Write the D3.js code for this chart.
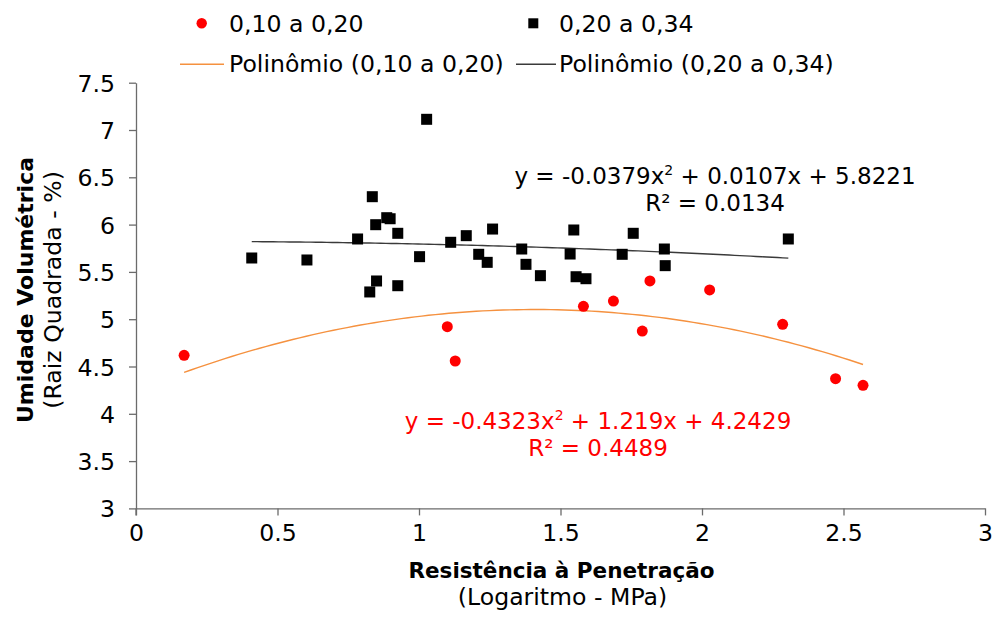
<!DOCTYPE html>
<html>
<head>
<meta charset="utf-8">
<script src="https://cdn.jsdelivr.net/npm/d3@7"></script>
<style>
  html, body { margin: 0; padding: 0; background: #fff; }
  svg { display: block; font-family: "DejaVu Sans", Verdana, sans-serif; }
</style>
</head>
<body>
<svg id="chart" width="992" height="617"></svg>
<script>
// Soil moisture vs. penetration resistance, two bulk-density classes
const redX = [0.170, 1.100, 1.128, 1.581, 1.687, 1.789, 1.816, 2.027, 2.285, 2.472, 2.569];
const redY = [4.618, 4.921, 4.558, 5.136, 5.192, 4.875, 5.404, 5.309, 4.946, 4.371, 4.301];

const blackX = [0.409, 0.604, 1.027, 0.835, 0.886, 0.898, 0.847, 0.925, 0.783, 1.112,
                1.167, 1.260, 1.002, 1.211, 1.241, 1.363, 1.378, 1.429, 0.850, 0.826,
                0.925, 1.547, 1.534, 1.555, 1.590, 1.757, 1.718, 1.867, 1.870, 2.305];
const blackY = [5.647, 5.626, 7.113, 6.295, 6.073, 6.062, 5.999, 5.908, 5.848, 5.813,
                5.883, 5.953, 5.661, 5.686, 5.601, 5.742, 5.580, 5.460, 5.404, 5.288,
                5.354, 5.943, 5.689, 5.449, 5.428, 5.908, 5.686, 5.742, 5.566, 5.848];

// Quadratic fit coefficients [a, b, c] for y = a*x^2 + b*x + c
const redFit = [-0.4323, 1.219, 4.2429];
const blackFit = [-0.0379, 0.0107, 5.8221];

const seriesNames = ["0,10 a 0,20", "0,20 a 0,34"];
const trendNames = ["Polinômio (0,10 a 0,20)", "Polinômio (0,20 a 0,34)"];

const xTicks = [0, 0.5, 1, 1.5, 2, 2.5, 3];
const yTicks = [3, 3.5, 4, 4.5, 5, 5.5, 6, 6.5, 7, 7.5];

const svg = d3.select("#chart");
const FS = 23.6;
const AXIS = "#6b6b6b";

const x = d3.scaleLinear().domain([0, 3]).range([136, 985]);
const y = d3.scaleLinear().domain([3, 7.5]).range([508.4, 82.7]);

// Axes
const xAxis = svg.append("g").attr("transform", `translate(0,${y(3)})`)
  .call(d3.axisBottom(x).tickValues(xTicks).tickFormat(d3.format("")).tickSize(7).tickSizeOuter(0));
const yAxis = svg.append("g").attr("transform", `translate(${x(0)},0)`)
  .call(d3.axisLeft(y).tickValues(yTicks).tickFormat(d3.format("")).tickSize(7).tickSizeOuter(0));

[xAxis, yAxis].forEach(g => {
  g.select(".domain").attr("stroke", AXIS).attr("stroke-width", 1.3);
  g.selectAll(".tick line").attr("stroke", AXIS).attr("stroke-width", 1.3);
  g.selectAll(".tick text").attr("fill", "#000").style("font-size", FS + "px")
    .style("font-family", "DejaVu Sans, Verdana, sans-serif");
});
xAxis.selectAll(".tick text").attr("dy", null).attr("y", 33);
yAxis.selectAll(".tick text").attr("x", -21).attr("dy", "0.36em");
// y axis continues down to the x tick length
svg.append("line").attr("x1", x(0)).attr("x2", x(0)).attr("y1", y(3)).attr("y2", y(3) + 7)
  .attr("stroke", AXIS).attr("stroke-width", 1.3);

// Trend curves
function curve(fit, xs) {
  const lo = d3.min(xs), hi = d3.max(xs);
  const pts = d3.range(0, 101).map(i => {
    const xv = lo + (hi - lo) * i / 100;
    return [xv, fit[0] * xv * xv + fit[1] * xv + fit[2]];
  });
  return d3.line().x(d => x(d[0])).y(d => y(d[1]))(pts);
}
svg.append("path").attr("d", curve(redFit, redX))
  .attr("fill", "none").attr("stroke", "#f5913f").attr("stroke-width", 1.4);
svg.append("path").attr("d", curve(blackFit, blackX))
  .attr("fill", "none").attr("stroke", "#3a3a3a").attr("stroke-width", 1.4);

// Points
const blackPts = blackX.map((v, i) => [v, blackY[i]]);
const redPts = redX.map((v, i) => [v, redY[i]]);
const SQ = 11;
svg.append("g").selectAll("rect").data(blackPts).join("rect")
  .attr("x", d => x(d[0]) - SQ / 2).attr("y", d => y(d[1]) - SQ / 2)
  .attr("width", SQ).attr("height", SQ).attr("fill", "#000");
svg.append("g").selectAll("circle").data(redPts).join("circle")
  .attr("cx", d => x(d[0])).attr("cy", d => y(d[1])).attr("r", 5.5).attr("fill", "#ff0000");

// Equations
function equation(cx, yBase, fit, r2, color) {
  const fmt = v => v.toString();
  const t = svg.append("text").attr("x", cx).attr("y", yBase).attr("text-anchor", "middle")
    .attr("fill", color).style("font-size", "23px");
  t.append("tspan").text(`y = ${fmt(fit[0])}x`);
  t.append("tspan").attr("dy", -9).style("font-size", "14px").text("2");
  t.append("tspan").attr("dy", 9).text(` + ${fmt(fit[1])}x + ${fmt(fit[2])}`);
  svg.append("text").attr("x", cx).attr("y", yBase + 27).attr("text-anchor", "middle")
    .attr("fill", color).style("font-size", "23px").text(`R² = ${r2}`);
}
equation(715, 184, blackFit, "0.0134", "#000");
equation(598, 429, redFit, "0.4489", "#ff0000");

// Legend
const lg = svg.append("g");
lg.append("circle").attr("cx", 201.7).attr("cy", 23.3).attr("r", 5.2).attr("fill", "#ff0000");
lg.append("text").attr("x", 229).attr("y", 31.7).style("font-size", FS + "px").text(seriesNames[0]);
lg.append("rect").attr("x", 533.3 - 5).attr("y", 23.3 - 5).attr("width", 10).attr("height", 10).attr("fill", "#000");
lg.append("text").attr("x", 559).attr("y", 31.7).style("font-size", FS + "px").text(seriesNames[1]);
lg.append("line").attr("x1", 180).attr("x2", 224).attr("y1", 64.3).attr("y2", 64.3)
  .attr("stroke", "#f5913f").attr("stroke-width", 1.4);
lg.append("text").attr("x", 229).attr("y", 71.7).style("font-size", FS + "px").text(trendNames[0]);
lg.append("line").attr("x1", 516).attr("x2", 556).attr("y1", 64.3).attr("y2", 64.3)
  .attr("stroke", "#3a3a3a").attr("stroke-width", 1.4);
lg.append("text").attr("x", 559).attr("y", 71.7).style("font-size", FS + "px").text(trendNames[1]);

// Axis titles
const cxPlot = (x(0) + x(3)) / 2;
svg.append("text").attr("x", cxPlot + 1).attr("y", 578).attr("text-anchor", "middle")
  .style("font-size", "21.5px").style("font-weight", "bold").text("Resistência à Penetração");
svg.append("text").attr("x", cxPlot + 2).attr("y", 605).attr("text-anchor", "middle")
  .style("font-size", FS + "px").text("(Logaritmo - MPa)");

const cyPlot = 290;
svg.append("text").attr("transform", `translate(33,${cyPlot}) rotate(-90)`).attr("text-anchor", "middle")
  .style("font-size", "22px").style("font-weight", "bold").text("Umidade Volumétrica");
svg.append("text").attr("transform", `translate(61,${cyPlot}) rotate(-90)`).attr("text-anchor", "middle")
  .style("font-size", FS + "px").text("(Raiz Quadrada - %)");
</script>
</body>
</html>
